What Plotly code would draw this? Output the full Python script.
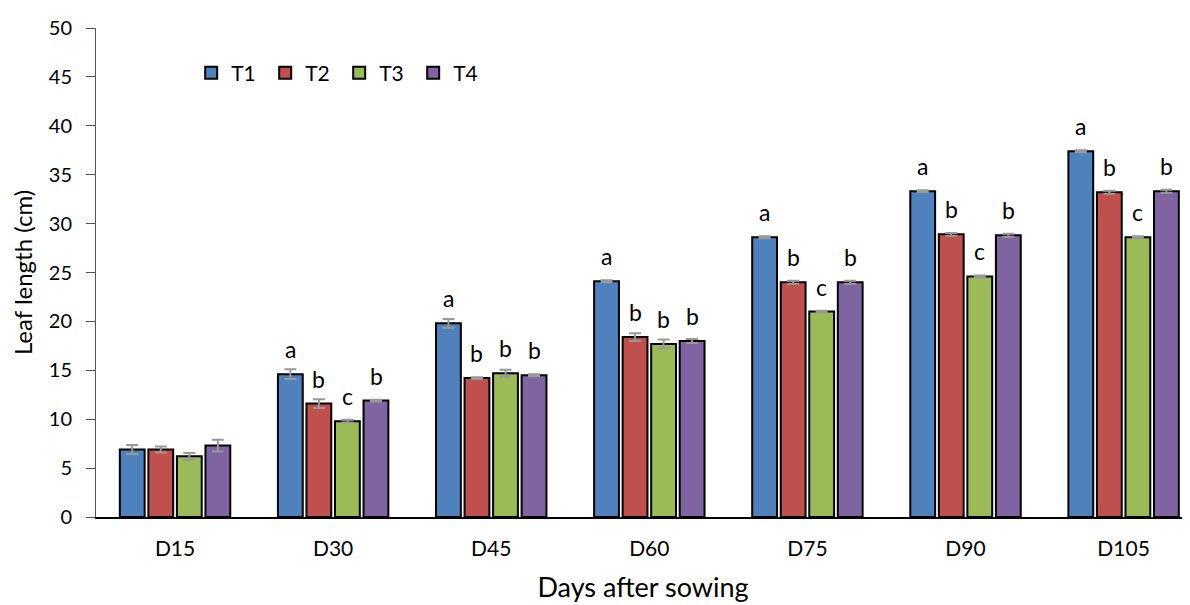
import plotly.graph_objects as go

days = ["D15", "D30", "D45", "D60", "D75", "D90", "D105"]
series_names = ["T1", "T2", "T3", "T4"]
t1 = [6.9, 14.6, 19.8, 24.1, 28.6, 33.3, 37.4]
t2 = [6.9, 11.6, 14.2, 18.4, 24.0, 28.9, 33.2]
t3 = [6.2, 9.8, 14.7, 17.7, 21.0, 24.6, 28.6]
t4 = [7.3, 11.9, 14.5, 18.0, 24.0, 28.8, 33.3]
t1_err = [0.45, 0.5, 0.45, 0.1, 0.1, 0.1, 0.1]
t2_err = [0.3, 0.45, 0.1, 0.4, 0.15, 0.15, 0.15]
t3_err = [0.35, 0.15, 0.35, 0.45, 0.1, 0.1, 0.1]
t4_err = [0.6, 0.1, 0.1, 0.2, 0.15, 0.15, 0.15]
t1_letters = ["", "a", "a", "a", "a", "a", "a"]
t2_letters = ["", "b", "b", "b", "b", "b", "b"]
t3_letters = ["", "c", "b", "b", "c", "c", "c"]
t4_letters = ["", "b", "b", "b", "b", "b", "b"]

colors = ["#4F81BD", "#C0504D", "#9BBB59", "#8064A2"]
values = [t1, t2, t3, t4]
errors = [t1_err, t2_err, t3_err, t4_err]
letters = [t1_letters, t2_letters, t3_letters, t4_letters]

FONT = "Lato, Open Sans, sans-serif"

fig = go.Figure()
for name, vals, errs, col in zip(series_names, values, errors, colors):
    fig.add_trace(go.Bar(
        x=days, y=vals, name=name,
        marker=dict(color=col, line=dict(color="black", width=2)),
        error_y=dict(type="data", array=errs, visible=True,
                     color="#999999", thickness=2, width=6),
    ))

slot = 28.6
for i, (vals, labs) in enumerate(zip(values, letters)):
    for d, v, lab in zip(days, vals, labs):
        if lab:
            fig.add_annotation(x=d, y=v, xref="x", yref="y", text=lab,
                               showarrow=False, xshift=(i - 1.5) * slot,
                               yshift=25, yanchor="middle",
                               font=dict(family=FONT, size=23, color="black"))

fig.update_layout(
    width=1190, height=605,
    margin=dict(l=88, r=8, t=20, b=96),
    paper_bgcolor="white", plot_bgcolor="white",
    barmode="group", bargap=0.278, bargroupgap=0.13,
    font=dict(family=FONT, color="black"),
    legend=dict(orientation="h", x=0.087, y=0.908, xanchor="left", yanchor="middle",
                font=dict(family=FONT, size=21, color="black"),
                entrywidth=29, entrywidthmode="pixels", itemwidth=30,
                bgcolor="rgba(0,0,0,0)"),
    showlegend=True,
)
fig.update_xaxes(
    range=[-0.5, 6.42], showline=True, linecolor="black", linewidth=2,
    ticks="", tickfont=dict(family=FONT, size=21, color="black"),
    ticklabelstandoff=12, showgrid=False, automargin=False,
    title=dict(text="Days after sowing", font=dict(family=FONT, size=27, color="black"),
               standoff=19),
)
fig.update_yaxes(
    range=[0, 50], dtick=5, showline=True, linecolor="#555555", linewidth=1,
    ticks="outside", ticklen=9, tickcolor="#555555",
    tickfont=dict(family=FONT, size=20, color="black"), ticklabelstandoff=10,
    showgrid=False, zeroline=False, automargin=False,
    title=dict(text="Leaf length (cm)", font=dict(family=FONT, size=24, color="black"),
               standoff=12),
)
fig.write_html("out.html")
